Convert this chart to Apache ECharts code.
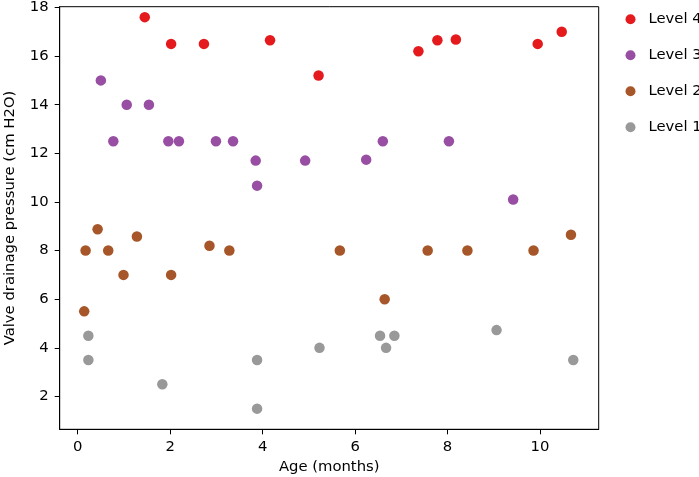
<!doctype html>
<html>
	<head>
		<meta charset="utf-8">
		<title>Valve drainage pressure vs age</title>
		<style>
			html, body { margin: 0; padding: 0; background: #fff; }
		</style>
	</head>
	<body>
		<script src="https://cdn.jsdelivr.net/npm/echarts@6/dist/echarts.min.js"></script>

		<div id="chart" style="width: 699px; height: 477px;"></div>

		<script>
			// values
			let level4X = [1.45, 2.02, 2.73, 4.16, 5.21, 7.37, 7.78, 8.18, 9.95, 10.47];
			let level4Y = [17.6, 16.5, 16.5, 16.65, 15.2, 16.2, 16.65, 16.68, 16.5, 17.0];

			let level3X = [0.50, 0.77, 1.06, 1.54, 1.96, 2.19, 2.99, 3.36, 3.85, 3.88, 4.92, 6.24, 6.60, 8.03, 9.42];
			let level3Y = [15.0, 12.5, 14.0, 14.0, 12.5, 12.5, 12.5, 12.5, 11.7, 10.67, 11.7, 11.74, 12.5, 12.5, 10.1];

			let level2X = [0.14, 0.17, 0.43, 0.66, 0.99, 1.28, 2.02, 2.85, 3.28, 5.67, 6.64, 7.57, 8.43, 9.86, 10.67];
			let level2Y = [5.5, 8.0, 8.88, 8.0, 7.0, 8.58, 7.0, 8.2, 8.0, 8.0, 6.0, 8.0, 8.0, 8.0, 8.65];

			let level1X = [0.23, 0.23, 1.83, 3.88, 3.88, 5.23, 6.54, 6.67, 6.85, 9.06, 10.72];
			let level1Y = [4.5, 3.5, 2.5, 3.5, 1.5, 4.0, 4.5, 4.0, 4.5, 4.73, 3.5];

			let levelNames = ["Level 4", "Level 3", "Level 2", "Level 1"];
			let xTicks = [0, 2, 4, 6, 8, 10];
			let yTicks = [2, 4, 6, 8, 10, 12, 14, 16, 18];

			const font = "'DejaVu Sans', sans-serif";
			const fontSize = 14.8;
			const colors = ["#e41a1c", "#984ea3", "#a65628", "#999999"];

			let zip = (xs, ys) => xs.map((x, i) => [x, ys[i]]);
			let levels = [
				zip(level4X, level4Y),
				zip(level3X, level3Y),
				zip(level2X, level2Y),
				zip(level1X, level1Y),
			];

			let myChart = echarts.init(document.getElementById("chart"), null, {
				width: 699,
				height: 477
			});

			let axisCommon = {
				type: "value",
				nameLocation: "middle",
				nameTextStyle: { fontFamily: font, fontSize: fontSize, color: "#000" },
				splitLine: { show: false },
				axisLine: { show: true, onZero: false, lineStyle: { color: "#000", width: 1 } },
				axisTick: { show: true, length: 5, lineStyle: { color: "#000", width: 1 } },
				axisLabel: { fontFamily: font, fontSize: fontSize, color: "#000" },
			};

			let opts = {
				animation: false,
				color: colors,
				grid: {
					left: 59.7,
					right: 100.3,
					top: 6.7,
					bottom: 47.7,
					containLabel: false,
					outerBoundsMode: "none",
					show: true,
					borderColor: "#000",
					borderWidth: 1,
					backgroundColor: "transparent"
				},
				legend: {
					orient: "vertical",
					left: 625.5,
					top: 10.8,
					padding: 0,
					icon: "circle",
					itemWidth: 26,
					itemHeight: 10,
					itemGap: 19,
					textStyle: { fontFamily: font, fontSize: fontSize, color: "#000", lineHeight: 17 },
					data: levelNames
				},
				xAxis: Object.assign({}, axisCommon, {
					name: "Age (months)",
					nameGap: 30,
					min: -0.39,
					max: 11.27,
					axisTick: Object.assign({}, axisCommon.axisTick, { customValues: xTicks }),
					axisLabel: Object.assign({}, axisCommon.axisLabel, { margin: 10, customValues: xTicks }),
				}),
				yAxis: Object.assign({}, axisCommon, {
					name: "Valve drainage pressure (cm H2O)",
					nameGap: 42,
					min: 0.65,
					max: 18.03,
					axisTick: Object.assign({}, axisCommon.axisTick, { customValues: yTicks }),
					axisLabel: Object.assign({}, axisCommon.axisLabel, { margin: 11, customValues: yTicks }),
				}),
				series: levels.map((pts, i) => ({
					name: levelNames[i],
					type: "scatter",
					symbol: "circle",
					symbolSize: 10.5,
					itemStyle: { color: colors[i], opacity: 1 },
					emphasis: { disabled: true },
					data: pts
				}))
			};

			myChart.setOption(opts);
		</script>
	</body>
</html>
